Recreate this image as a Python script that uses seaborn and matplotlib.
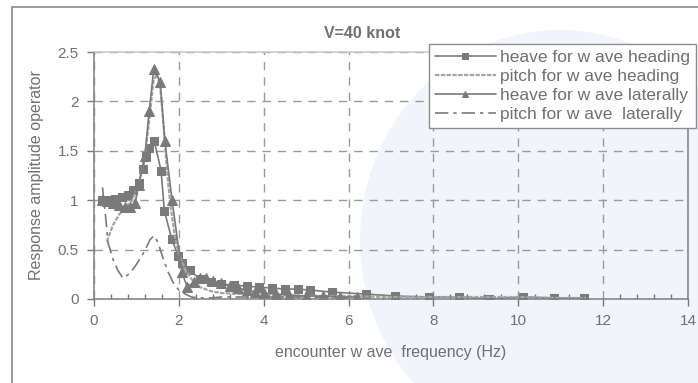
import numpy as np
import pandas as pd
import seaborn as sns
import matplotlib.pyplot as plt
from matplotlib.patches import Ellipse, Rectangle
from matplotlib.ticker import MultipleLocator, FormatStrFormatter

# heave for wave heading (squares)
heave_head_x = [0.2, 0.35, 0.5, 0.65, 0.8, 0.92, 1.05, 1.15, 1.22, 1.3, 1.42, 1.58, 1.66, 1.83,
                1.98, 2.07, 2.26, 2.5, 2.75, 3.0, 3.3, 3.6, 3.9, 4.2, 4.5, 4.8, 5.1, 5.6, 6.4,
                7.1, 7.9, 8.6, 9.3, 10.1, 10.85, 11.55]
heave_head_y = [1.0, 1.0, 1.01, 1.03, 1.05, 1.1, 1.17, 1.32, 1.45, 1.53, 1.6, 1.3, 0.89, 0.61,
                0.44, 0.36, 0.29, 0.2, 0.17, 0.15, 0.14, 0.13, 0.12, 0.11, 0.1, 0.1, 0.09, 0.07,
                0.05, 0.03, 0.02, 0.02, 0.0, 0.02, 0.01, 0.01]

# pitch for wave heading (no markers)
pitch_head_x = [0.3, 0.45, 0.6, 0.75, 0.9, 1.05, 1.2, 1.3, 1.4, 1.48, 1.56, 1.64, 1.72, 1.8,
                1.9, 2.0, 2.15, 2.3, 2.5, 2.75, 3.0, 3.5, 4.0, 5.0, 6.0, 7.0, 8.0, 9.0, 10.0,
                11.0, 11.6]
pitch_head_y = [0.58, 0.75, 0.86, 0.93, 1.0, 1.15, 1.45, 1.8, 2.2, 2.28, 2.15, 1.75, 1.3, 0.95,
                0.65, 0.45, 0.3, 0.2, 0.12, 0.08, 0.06, 0.05, 0.04, 0.03, 0.03, 0.02, 0.02,
                0.02, 0.02, 0.01, 0.01]

# heave for wave laterally (triangles)
heave_lat_x = [0.2, 0.3, 0.45, 0.6, 0.72, 0.85, 0.97, 1.05, 1.2, 1.3, 1.41, 1.56, 1.67, 1.84,
               2.07, 2.2, 2.35, 2.5, 2.65, 2.8, 3.0, 3.2, 3.4, 3.6, 3.8, 4.0, 4.3, 4.6, 5.0,
               5.4, 5.8, 6.2]
heave_lat_y = [1.0, 0.99, 0.97, 0.95, 0.93, 0.93, 0.97, 1.15, 1.45, 1.9, 2.33, 2.2, 1.6, 1.0,
               0.27, 0.12, 0.17, 0.21, 0.21, 0.18, 0.16, 0.13, 0.11, 0.09, 0.07, 0.06, 0.05,
               0.04, 0.03, 0.03, 0.02, 0.02]

# pitch for wave laterally (dash-dot)
pitch_lat_x = [0.2, 0.27, 0.33, 0.45, 0.55, 0.68, 0.85, 1.0, 1.2, 1.32, 1.41, 1.5, 1.63, 1.75,
               1.86, 2.0, 2.15, 2.3, 2.5, 2.7, 3.0, 3.5, 4.0, 5.0, 6.0]
pitch_lat_y = [1.13, 0.85, 0.57, 0.4, 0.3, 0.21, 0.26, 0.35, 0.49, 0.6, 0.64, 0.58, 0.41, 0.27,
               0.17, 0.09, 0.05, 0.02, 0.01, 0.01, 0.02, 0.02, 0.02, 0.02, 0.01]

labels = ["heave for w ave heading", "pitch for w ave heading",
          "heave for w ave laterally", "pitch for w ave  laterally"]

sns.set_style("white", {"xtick.bottom": True, "ytick.left": True})
plt.rcParams['font.family'] = ['Liberation Sans', 'DejaVu Sans']

W, H = 698, 383
fig = plt.figure(figsize=(W / 100, H / 100), dpi=100)

# faint watermark and chart border (behind the axes)
fig.patches.append(Ellipse((560 / W, 1 - 240 / H), 400 / W, 420 / H, transform=fig.transFigure,
                           facecolor='#f1f4fa', edgecolor='none', zorder=-2))
fig.patches.append(Rectangle((12 / W, -0.05), 1.0, 1 - 7 / H + 0.05, transform=fig.transFigure,
                             facecolor='none', edgecolor='#8a8a8a', lw=1.2, zorder=-1))

ax = fig.add_axes([94 / W, 1 - 299 / H, (688 - 94) / W, (299 - 52) / H])
ax.set_facecolor('none')
ax.set_zorder(2)

gray = '#7a7a7a'
sns.lineplot(x=heave_head_x, y=heave_head_y, ax=ax, sort=False, color=gray, lw=1.2,
             marker='s', markersize=6, markeredgecolor=gray, label=labels[0])
sns.lineplot(x=pitch_head_x, y=pitch_head_y, ax=ax, sort=False, color='#a4a4a4', lw=1.6,
             linestyle=(0, (2, 0.6)), label=labels[1])
sns.lineplot(x=heave_lat_x, y=heave_lat_y, ax=ax, sort=False, color=gray, lw=1.2,
             marker='^', markersize=6.5, markeredgecolor=gray, label=labels[2])
sns.lineplot(x=pitch_lat_x, y=pitch_lat_y, ax=ax, sort=False, color=gray, lw=1.2,
             linestyle=(0, (8, 3, 2, 3)), label=labels[3])

ax.set_xlim(0, 14)
ax.set_ylim(0, 2.5)
ax.xaxis.set_major_locator(MultipleLocator(2))
ax.xaxis.set_minor_locator(MultipleLocator(0.4))
ax.yaxis.set_major_locator(MultipleLocator(0.5))
ax.yaxis.set_major_formatter(FormatStrFormatter('%g'))

ax.grid(True, which='major', color='#9a9a9a', linestyle=(0, (6, 5)), lw=1)
for s in ax.spines.values():
    s.set_color('#808080')
    s.set_linewidth(1.1)
ax.spines['top'].set_color('#c8c8c8')

ax.tick_params(axis='both', which='major', direction='out', length=5, width=1,
               color='#777777', labelcolor='#707070', labelsize=11, pad=6)
ax.tick_params(axis='x', which='minor', direction='in', length=3.5, width=1,
               color='#777777', bottom=True)

ax.set_xlabel("encounter w ave  frequency (Hz)", fontsize=11.5, color='#707070', labelpad=12)
ax.set_ylabel("Response amplitude operator", fontsize=11.5, color='#707070', labelpad=10)
fig.text(362 / W, 1 - 33 / H, "V=40 knot", ha='center', va='center', fontsize=11.5,
         fontweight='bold', color='#707070')

leg = ax.legend(loc='upper left', bbox_to_anchor=(429 / W, 1 - 44 / H),
                bbox_transform=fig.transFigure, frameon=True, fancybox=False,
                borderaxespad=0, fontsize=12.5, handlelength=3.5, handletextpad=0.25,
                labelspacing=0.22, borderpad=0.35, numpoints=1, labelcolor='#707070')
leg.get_frame().set_edgecolor('#8c8c8c')
leg.get_frame().set_facecolor('white')
leg.get_frame().set_alpha(1)
leg.get_frame().set_linewidth(1)
for h in leg.legend_handles:
    if h.get_marker() not in (None, 'None', ''):
        h.set_markersize(5)

fig.savefig("out.png", dpi=100)
